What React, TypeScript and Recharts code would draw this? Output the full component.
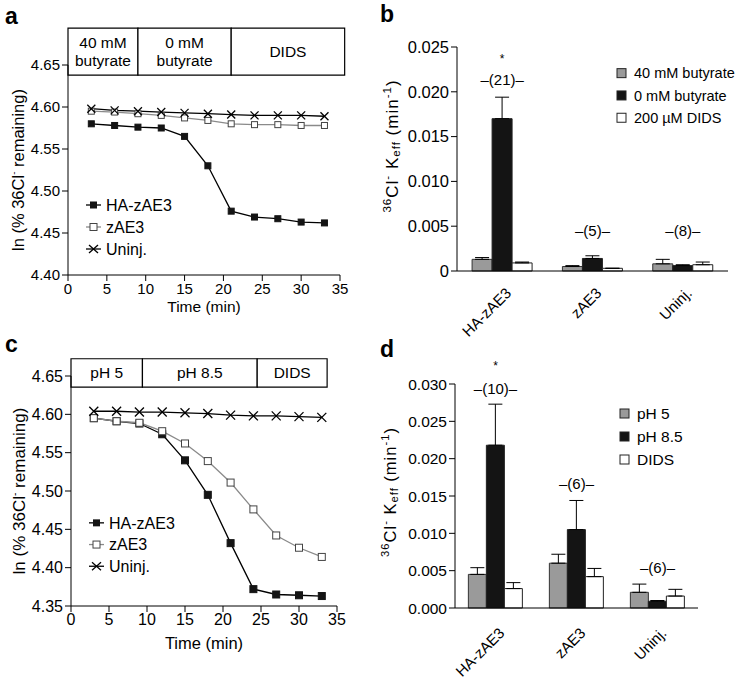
import React from 'react';
import {
  LineChart,
  Line,
  XAxis,
  YAxis,
  ReferenceArea,
  ReferenceDot,
  Legend,
  BarChart,
  Bar,
  ErrorBar,
} from 'recharts';

const FONT = '"Liberation Sans", Arial, Helvetica, sans-serif';

// sampling times (min) for the efflux time courses
const times = [3, 6, 9, 12, 15, 18, 21, 24, 27, 30, 33];
const timeTicks = [0, 5, 10, 15, 20, 25, 30, 35];

// panel a: butyrate protocol, ln(% 36Cl remaining)
const aHaZAE3 = [4.58, 4.578, 4.576, 4.575, 4.565, 4.53, 4.476, 4.469, 4.467, 4.463, 4.462];
const aZAE3 = [4.595, 4.594, 4.592, 4.59, 4.587, 4.584, 4.58, 4.579, 4.579, 4.578, 4.578];
const aUninj = [4.598, 4.596, 4.595, 4.594, 4.593, 4.592, 4.591, 4.59, 4.59, 4.59, 4.589];
const aTicks = [4.4, 4.45, 4.5, 4.55, 4.6, 4.65];
const aPhaseNames = [['40 mM', 'butyrate'], ['0 mM', 'butyrate'], ['DIDS']];
const aPhaseEdges = [0, 9, 21, 35.6];

// panel c: pH protocol
const cHaZAE3 = [4.595, 4.591, 4.588, 4.574, 4.54, 4.495, 4.432, 4.372, 4.365, 4.364, 4.363];
const cZAE3 = [4.595, 4.591, 4.589, 4.578, 4.562, 4.539, 4.511, 4.476, 4.442, 4.426, 4.414];
const cUninj = [4.604, 4.604, 4.603, 4.603, 4.602, 4.601, 4.599, 4.598, 4.598, 4.597, 4.596];
const cTicks = [4.35, 4.4, 4.45, 4.5, 4.55, 4.6, 4.65];
const cPhaseNames = [['pH 5'], ['pH 8.5'], ['DIDS']];
const cPhaseEdges = [0, 9.4, 24.5, 33.7];

const lineNames = ['HA-zAE3', 'zAE3', 'Uninj.'];

// bar panels
const groups = ['HA-zAE3', 'zAE3', 'Uninj.'];

// panel b: Keff (min-1)
const bNames = ['40 mM butyrate', '0 mM butyrate', '200 \u00b5M DIDS'];
const bBut40 = [0.0013, 0.0005, 0.0008];
const bBut40Err = [0.0002, 0.0001, 0.0005];
const bBut0 = [0.017, 0.0014, 0.0006];
const bBut0Err = [0.0024, 0.0003, 0.0001];
const bDids = [0.0009, 0.0003, 0.0007];
const bDidsErr = [0.0001, 0, 0.0003];
const bN = ['(21)', '(5)', '(8)'];
const bTicks = [0, 0.005, 0.01, 0.015, 0.02, 0.025];

// panel d
const dNames = ['pH 5', 'pH 8.5', 'DIDS'];
const dPh5 = [0.0045, 0.006, 0.0021];
const dPh5Err = [0.0009, 0.0012, 0.0011];
const dPh85 = [0.0218, 0.0105, 0.0009];
const dPh85Err = [0.0055, 0.0039, 0.0001];
const dDids = [0.0026, 0.0042, 0.0016];
const dDidsErr = [0.0008, 0.0011, 0.0009];
const dN = ['(10)', '(6)', '(6)'];
const dTicks = [0, 0.005, 0.01, 0.015, 0.02, 0.025, 0.03];

const GRAY = '#9a9a9a';
const DARK = '#141414';

function lineRows(ha: number[], z: number[], un: number[]) {
  return times.map((t, i) => ({ t, ha: ha[i], z: z[i], un: un[i] }));
}

function barRows(g: number[], k: number[], w: number[], ge: number[], ke: number[], we: number[]) {
  return groups.map((name, i) => ({
    name,
    g: g[i],
    k: k[i],
    w: w[i],
    ge: [0, ge[i]],
    ke: [0, ke[i]],
    we: [0, we[i]],
  }));
}

// keep legend rows in series order (recharts sorts them by name otherwise)
function ordered(payload: any[], order: string[]) {
  return [...(payload || [])].sort((p, q) => order.indexOf(p.value) - order.indexOf(q.value));
}

const squareDot = (size: number, fill: string, stroke: string) => (p: any) => {
  if (p.cx == null || p.cy == null) return <g key={`e${p.index}`} />;
  return (
    <rect
      key={`s${p.index}`}
      x={p.cx - size / 2}
      y={p.cy - size / 2}
      width={size}
      height={size}
      fill={fill}
      stroke={stroke}
      strokeWidth={1}
    />
  );
};

const crossDot = (size: number) => (p: any) => {
  if (p.cx == null || p.cy == null) return <g key={`e${p.index}`} />;
  const h = size / 2;
  return (
    <g key={`x${p.index}`} stroke="#000" strokeWidth={1.3}>
      <line x1={p.cx - h} y1={p.cy - h} x2={p.cx + h} y2={p.cy + h} />
      <line x1={p.cx - h} y1={p.cy + h} x2={p.cx + h} y2={p.cy - h} />
    </g>
  );
};

function PhaseLabel({ viewBox, lines, fontSize }: any) {
  if (!viewBox) return null;
  const cx = viewBox.x + viewBox.width / 2;
  const cy = viewBox.y + viewBox.height / 2;
  const lh = 18.5;
  return (
    <text textAnchor="middle" fontSize={fontSize} fill="#000" fontFamily={FONT}>
      {lines.map((l: string, i: number) => (
        <tspan key={l} x={cx} y={cy + (i - (lines.length - 1) / 2) * lh + fontSize * 0.36}>
          {l}
        </tspan>
      ))}
    </text>
  );
}

function LnTitle({ viewBox, dx, fontSize }: any) {
  if (!viewBox) return null;
  const cx = viewBox.x + dx;
  const cy = viewBox.y + viewBox.height / 2;
  return (
    <text
      transform={`translate(${cx},${cy}) rotate(-90)`}
      textAnchor="middle"
      dominantBaseline="central"
      fontSize={fontSize}
      fill="#000"
      fontFamily={FONT}
    >
      ln (% 36Cl
      <tspan dy={-5} fontSize={fontSize * 0.6}>-</tspan>
      <tspan dy={5}> remaining)</tspan>
    </text>
  );
}

function KeffTitle({ viewBox, dx, dy, fontSize }: any) {
  if (!viewBox) return null;
  const cx = viewBox.x + dx;
  const cy = viewBox.y + viewBox.height / 2 + dy;
  const s = fontSize * 0.68;
  return (
    <text
      transform={`translate(${cx},${cy}) rotate(-90)`}
      textAnchor="middle"
      dominantBaseline="central"
      fontSize={fontSize}
      letterSpacing={1}
      fill="#000"
      fontFamily={FONT}
    >
      <tspan dy={-5} fontSize={s}>36</tspan>
      <tspan dy={5}>Cl</tspan>
      <tspan dy={-5} fontSize={s}>-</tspan>
      <tspan dy={5}> K</tspan>
      <tspan dy={4} fontSize={s}>eff</tspan>
      <tspan dy={-4}> (min</tspan>
      <tspan dy={-5} fontSize={s}>-1</tspan>
      <tspan dy={5}>)</tspan>
    </text>
  );
}

function LineKey({ payload, fontSize, gap }: any) {
  const items = ordered(payload, lineNames);
  return (
    <svg width={120} height={gap * 3} style={{ display: 'block', overflow: 'visible' }}>
      {items.map((it: any, i: number) => {
        const y = gap / 2 + i * gap;
        const key = it.dataKey;
        const lineColor = key === 'z' ? '#8a8a8a' : '#000';
        let marker;
        if (key === 'ha') marker = <rect x={6} y={y - 3.5} width={7} height={7} fill={DARK} />;
        else if (key === 'z') marker = <rect x={6} y={y - 3.5} width={7} height={7} fill="#fff" stroke="#444" />;
        else
          marker = (
            <g stroke="#000" strokeWidth={1.3}>
              <line x1={5} y1={y - 4} x2={14} y2={y + 4} />
              <line x1={5} y1={y + 4} x2={14} y2={y - 4} />
            </g>
          );
        return (
          <g key={key}>
            <line x1={2} x2={17} y1={y} y2={y} stroke={lineColor} strokeWidth={1.3} />
            {marker}
            <text x={22} y={y + fontSize * 0.36} fontSize={fontSize} fill="#000" fontFamily={FONT}>
              {it.value}
            </text>
          </g>
        );
      })}
    </svg>
  );
}

function BarKey({ payload, fontSize, gap, order }: any) {
  const items = ordered(payload, order);
  return (
    <svg width={140} height={gap * 3} style={{ display: 'block', overflow: 'visible' }}>
      {items.map((it: any, i: number) => {
        const y = gap / 2 + i * gap;
        return (
          <g key={it.value}>
            <rect x={1} y={y - 4.5} width={9} height={9} fill={it.color} stroke="#222" />
            <text x={18} y={y + fontSize * 0.36} fontSize={fontSize} fill="#000" fontFamily={FONT}>
              {it.value}
            </text>
          </g>
        );
      })}
    </svg>
  );
}

const SlantTick = (dx: number, dy: number, fontSize: number) => (p: any) => (
  <text
    transform={`translate(${p.x + dx},${p.y + dy}) rotate(-45)`}
    textAnchor="end"
    fontSize={fontSize}
    fill="#000"
    fontFamily={FONT}
  >
    {p.payload.value}
  </text>
);

function TimeCourse({ data, ticks, names, edges, width, height, margin, yWidth, tickSize, legendPos, keyFont, keyGap, phaseFont, titleDx, titleSize, xOffset, sq, boxTop }: any) {
  const lo = ticks[0];
  const hi = ticks[ticks.length - 1];
  return (
    <LineChart width={width} height={height} data={data} margin={margin}>
      <XAxis
        type="number"
        dataKey="t"
        domain={[0, 35]}
        ticks={timeTicks}
        stroke="#000"
        tick={{ fontSize: tickSize, fill: '#000' }}
        height={50}
        label={{ value: 'Time (min)', position: 'insideBottom', offset: xOffset, fontSize: tickSize + 0.5, fill: '#000' }}
      />
      <YAxis
        type="number"
        domain={[lo, hi]}
        ticks={ticks}
        width={yWidth}
        stroke="#000"
        tick={{ fontSize: tickSize, fill: '#000' }}
        tickFormatter={(v: number) => v.toFixed(2)}
        label={<LnTitle dx={titleDx} fontSize={titleSize} />}
      />
      {names.map((lines: string[], i: number) => (
        <ReferenceArea
          key={lines.join(' ')}
          x1={edges[i]}
          x2={edges[i + 1]}
          y1={hi - (hi - lo) * 0.048}
          y2={hi + (hi - lo) * boxTop}
          ifOverflow="visible"
          fill="#fff"
          fillOpacity={1}
          stroke="#000"
          strokeWidth={1.2}
          label={<PhaseLabel lines={lines} fontSize={phaseFont} />}
        />
      ))}
      <Legend
        layout="vertical"
        align="center"
        verticalAlign="middle"
        wrapperStyle={{ left: legendPos[0], top: legendPos[1], width: 'auto' }}
        content={<LineKey fontSize={keyFont} gap={keyGap} />}
      />
      <Line
        name={lineNames[0]}
        dataKey="ha"
        stroke="#000"
        strokeWidth={1.3}
        dot={squareDot(sq, DARK, DARK)}
        isAnimationActive={false}
      />
      <Line
        name={lineNames[1]}
        dataKey="z"
        stroke="#8a8a8a"
        strokeWidth={1.3}
        dot={squareDot(sq, '#fff', '#444')}
        isAnimationActive={false}
      />
      <Line
        name={lineNames[2]}
        dataKey="un"
        stroke="#000"
        strokeWidth={1.3}
        dot={crossDot(sq + 2)}
        isAnimationActive={false}
      />
    </LineChart>
  );
}

export default function App() {
  const aData = lineRows(aHaZAE3, aZAE3, aUninj);
  const cData = lineRows(cHaZAE3, cZAE3, cUninj);
  const bData = barRows(bBut40, bBut0, bDids, bBut40Err, bBut0Err, bDidsErr);
  const dData = barRows(dPh5, dPh85, dDids, dPh5Err, dPh85Err, dDidsErr);

  const letter = (ch: string, left: number, top: number) => (
    <div style={{ position: 'absolute', left, top, fontSize: 23, fontWeight: 'bold', lineHeight: 1 }}>{ch}</div>
  );

  const barSeries = (names: string[]) => [
    <Bar key="g" name={names[0]} dataKey="g" fill={GRAY} stroke="#333" strokeWidth={1} isAnimationActive={false}>
      <ErrorBar dataKey="ge" width={7} stroke="#000" strokeWidth={1} direction="y" />
    </Bar>,
    <Bar key="k" name={names[1]} dataKey="k" fill={DARK} stroke="#222" strokeWidth={1} isAnimationActive={false}>
      <ErrorBar dataKey="ke" width={7} stroke="#000" strokeWidth={1} direction="y" />
    </Bar>,
    <Bar key="w" name={names[2]} dataKey="w" fill="#fff" stroke="#222" strokeWidth={1} isAnimationActive={false}>
      <ErrorBar dataKey="we" width={7} stroke="#000" strokeWidth={1} direction="y" />
    </Bar>,
  ];

  return (
    <div
      style={{
        position: 'absolute',
        left: 0,
        top: 0,
        width: 751,
        height: 680,
        background: '#fff',
        fontFamily: FONT,
        color: '#000',
        overflow: 'hidden',
      }}
    >
      {letter('a', 5, 5)}
      {letter('b', 380, 3)}
      {letter('c', 5, 333)}
      {letter('d', 380, 338)}

      <div style={{ position: 'absolute', left: 0, top: 0 }}>
        <TimeCourse
          data={aData}
          ticks={aTicks}
          names={aPhaseNames}
          edges={aPhaseEdges}
          width={375}
          height={330}
          margin={{ top: 65, right: 35, bottom: 5, left: 0 }}
          yWidth={68}
          tickSize={15}
          legendPos={[84, 194]}
          keyFont={16}
          keyGap={22}
          phaseFont={15.5}
          titleDx={18}
          titleSize={16.5}
          xOffset={13}
          sq={6}
          boxTop={0.176}
        />
      </div>

      <div style={{ position: 'absolute', left: 0, top: 330 }}>
        <TimeCourse
          data={cData}
          ticks={cTicks}
          names={cPhaseNames}
          edges={cPhaseEdges}
          width={375}
          height={350}
          margin={{ top: 46, right: 38, bottom: 24, left: 0 }}
          yWidth={71}
          tickSize={16}
          legendPos={[87, 182]}
          keyFont={16}
          keyGap={21.7}
          phaseFont={15.5}
          titleDx={19}
          titleSize={17}
          xOffset={7}
          sq={7}
          boxTop={0.075}
        />
      </div>

      <div style={{ position: 'absolute', left: 380, top: 0 }}>
        <BarChart
          width={371}
          height={345}
          data={bData}
          margin={{ top: 47, right: 23, bottom: 15, left: 0 }}
          barCategoryGap="16.7%"
          barGap={0}
        >
          <XAxis
            dataKey="name"
            stroke="#000"
            tickLine={false}
            height={59}
            interval={0}
            tick={SlantTick(10, 15, 15)}
          />
          <YAxis
            domain={[0, 0.025]}
            ticks={bTicks}
            width={77}
            stroke="#000"
            tick={{ fontSize: 16.5, fill: '#000' }}
            tickFormatter={(v: number) => (v === 0 ? '0' : v.toFixed(3))}
            label={<KeffTitle dx={12} dy={-13} fontSize={17} />}
          />
          <Legend
            layout="vertical"
            align="center"
            verticalAlign="middle"
            wrapperStyle={{ left: 236, top: 62, width: 'auto' }}
            content={<BarKey fontSize={14.5} gap={22.3} order={bNames} />}
          />
          {barSeries(bNames)}
          <ReferenceDot x={groups[0]} y={0.0237} r={0} ifOverflow="visible" label={{ value: '*', position: 'center', fontSize: 12, fill: '#000' }} />
          {groups.map((g, i) => (
            <ReferenceDot
              key={g}
              x={g}
              y={i === 0 ? 0.0213 : 0.00454}
              r={0}
              ifOverflow="visible"
              label={{ value: `\u2013${bN[i]}\u2013`, position: 'center', fontSize: 15, fill: '#000' }}
            />
          ))}
        </BarChart>
      </div>

      <div style={{ position: 'absolute', left: 380, top: 330 }}>
        <BarChart
          width={371}
          height={350}
          data={dData}
          margin={{ top: 54, right: 53, bottom: 0, left: 0 }}
          barCategoryGap="16.5%"
          barGap={0}
        >
          <XAxis
            dataKey="name"
            stroke="#000"
            tickLine={false}
            height={72}
            interval={0}
            tick={SlantTick(10, 18, 15)}
          />
          <YAxis
            domain={[0, 0.03]}
            ticks={dTicks}
            width={75}
            stroke="#000"
            tick={{ fontSize: 15.5, fill: '#000' }}
            tickFormatter={(v: number) => v.toFixed(3)}
            label={<KeffTitle dx={10} dy={-4} fontSize={16.5} />}
          />
          <Legend
            layout="vertical"
            align="center"
            verticalAlign="middle"
            wrapperStyle={{ left: 239, top: 71.5, width: 'auto' }}
            content={<BarKey fontSize={15.5} gap={23} order={dNames} />}
          />
          {barSeries(dNames)}
          <ReferenceDot x={groups[0]} y={0.0324} r={0} ifOverflow="visible" label={{ value: '*', position: 'center', fontSize: 12, fill: '#000' }} />
          {groups.map((g, i) => (
            <ReferenceDot
              key={g}
              x={g}
              y={[0.02935, 0.01663, 0.00543][i]}
              r={0}
              ifOverflow="visible"
              label={{ value: `\u2013${dN[i]}\u2013`, position: 'center', fontSize: 15, fill: '#000' }}
            />
          ))}
        </BarChart>
      </div>
    </div>
  );
}
